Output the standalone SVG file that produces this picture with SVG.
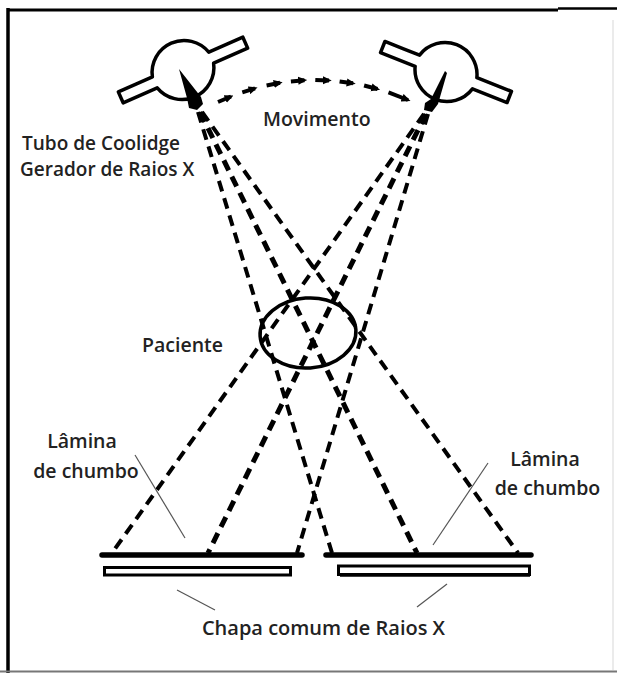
<svg xmlns="http://www.w3.org/2000/svg" width="617" height="673" viewBox="0 0 617 673">
  <defs>
    <style>
      .lbl { font-family: "Open Sans", "Liberation Sans", sans-serif; font-weight: 600; font-size: 19.5px; fill: #222; }
      .ray { fill: none; stroke: #000; stroke-width: 4; stroke-dasharray: 11 7; }
      .ray.bold { stroke-width: 5; }
      .lead { fill: none; stroke: #555; stroke-width: 1.2; }
      .tube { fill: #fff; stroke: #000; stroke-width: 3.5; stroke-linejoin: round; }
      .move { fill: none; stroke: #000; stroke-width: 4; }
    </style>
    <marker id="ah" viewBox="0 0 10 10" refX="7" refY="5" markerWidth="9" markerHeight="9" markerUnits="userSpaceOnUse" orient="auto">
      <path d="M0,0.5 L10,5 L0,9.5 Z" fill="#000"/>
    </marker>
    <!-- Coolidge tube outline: bulb with two arms, axis along x -->
    <path id="tubeShape" d="M -30.8,-6 C -40,-6 -60,-6 -68,-6 L -68,6 L -30.8,6 A 32 32 0 0 0 30.8,6 L 68,6 L 68,-6 L 30.8,-6 A 32 32 0 0 0 -30.8,-6 Z"/>
  </defs>

  <rect width="617" height="673" fill="#fff"/>

  <!-- frame -->
  <g id="frame" fill="none">
    <line x1="8" y1="8" x2="8" y2="673" stroke="#000" stroke-width="3.5"/>
    <line x1="8" y1="10" x2="558" y2="10" stroke="#000" stroke-width="3"/>
    <line x1="558" y1="8.5" x2="617" y2="8.5" stroke="#000" stroke-width="2.5"/>
    <line x1="0" y1="671.5" x2="617" y2="671.5" stroke="#777" stroke-width="2"/>
    <line x1="613" y1="20" x2="613" y2="670" stroke="#e4e4e4" stroke-width="1.5"/>
  </g>

  <!-- x-ray beams -->
  <g id="connectors">
    <path class="ray" d="M198,112 L332,553"/>
    <path class="ray bold" d="M200,112 L417,553"/>
    <path class="ray" d="M202,112 L518,553"/>
    <path class="ray" d="M424,114 L112,553"/>
    <path class="ray bold" d="M426,114 L208,553"/>
    <path class="ray" d="M428,114 L297,553"/>

    <!-- movement arc -->
    <g id="movimento-arrow">
      <line class="move" x1="218" y1="102" x2="231" y2="96.5" marker-end="url(#ah)"/>
      <line class="move" x1="242.3" y1="92.4" x2="255" y2="88.3" marker-end="url(#ah)"/>
      <line class="move" x1="266.6" y1="85.5" x2="280" y2="82.8" marker-end="url(#ah)"/>
      <line class="move" x1="290.9" y1="81.4" x2="304.5" y2="80.3" marker-end="url(#ah)"/>
      <line class="move" x1="315.3" y1="80" x2="329" y2="80.5" marker-end="url(#ah)"/>
      <line class="move" x1="339.6" y1="81.4" x2="353" y2="83.3" marker-end="url(#ah)"/>
      <line class="move" x1="364.1" y1="85.5" x2="377.5" y2="89" marker-end="url(#ah)"/>
      <line class="move" x1="388.5" y1="92.4" x2="408" y2="100" marker-end="url(#ah)"/>
    </g>

    <!-- leader lines -->
    <line class="lead" x1="135" y1="455" x2="185" y2="538"/>
    <line class="lead" x1="488" y1="463" x2="433" y2="545"/>
    <line class="lead" x1="177" y1="590" x2="215" y2="610"/>
    <line class="lead" x1="447" y1="584" x2="417" y2="607"/>
  </g>

  <!-- left tube -->
  <g id="tubo-esquerdo">
    <use href="#tubeShape" class="tube" transform="translate(183,70) rotate(-23.7)"/>
    <path d="M179,69 L201,97 L203,104 L197,110 L189,108 L187,98 Z" fill="#000"/>
  </g>

  <!-- right tube -->
  <g id="tubo-direito">
    <use href="#tubeShape" class="tube" transform="translate(446,72) rotate(21.5)"/>
    <path d="M445,71 L447,73 L438,104 L432,112 L424,110 L425,103 L431,99 Z" fill="#000"/>
  </g>

  <!-- patient -->
  <g id="paciente">
    <ellipse cx="308" cy="333" rx="48" ry="35" transform="rotate(-4 308 333)" fill="none" stroke="#000" stroke-width="3.5"/>
  </g>

  <!-- lead sheets and film plates -->
  <g id="chapa-esquerda">
    <line x1="102" y1="555" x2="302" y2="555" stroke="#000" stroke-width="5.5" stroke-linecap="round"/>
    <rect x="104.5" y="567.5" width="186" height="7.5" fill="#fff" stroke="#000" stroke-width="3"/>
  </g>
  <g id="chapa-direita">
    <line x1="326" y1="555" x2="531" y2="555" stroke="#000" stroke-width="5.5" stroke-linecap="round"/>
    <rect x="338.5" y="566" width="191" height="8.5" fill="#fff" stroke="#000" stroke-width="3"/>
    <line x1="340" y1="575" x2="530" y2="575" stroke="#000" stroke-width="3.5"/>
  </g>

  <!-- labels -->
  <g id="labels">
    <text class="lbl" x="22" y="150" style="font-size:19px">Tubo de Coolidge</text>
    <text class="lbl" x="20" y="176" style="font-size:19px">Gerador de Raios X</text>
    <text class="lbl" x="263" y="126">Movimento</text>
    <text class="lbl" x="223" y="352" text-anchor="end">Paciente</text>
    <text class="lbl" x="82" y="448" text-anchor="middle">Lâmina</text>
    <text class="lbl" x="86" y="478" text-anchor="middle">de chumbo</text>
    <text class="lbl" x="545" y="466" text-anchor="middle">Lâmina</text>
    <text class="lbl" x="547.5" y="495" text-anchor="middle">de chumbo</text>
    <text class="lbl" x="323.5" y="635" text-anchor="middle" style="font-size:20px">Chapa comum de Raios X</text>
  </g>
</svg>
